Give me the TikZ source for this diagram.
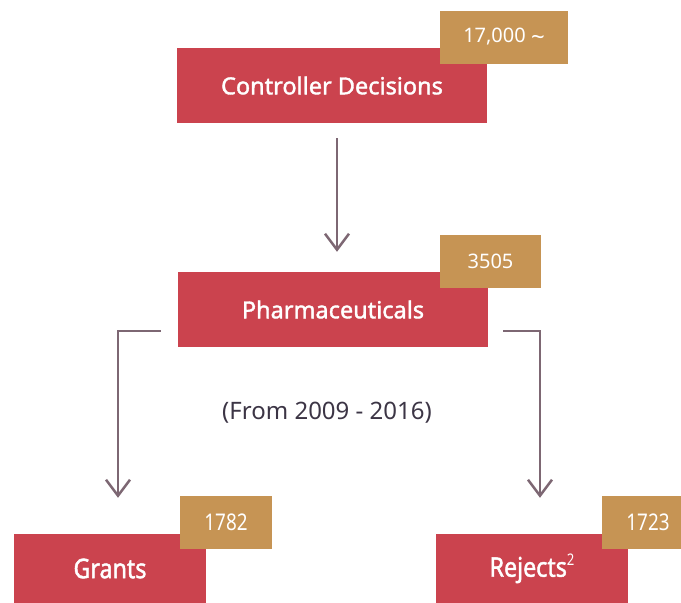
\documentclass[tikz,border=0pt]{standalone}
\usepackage{fontspec}
\setmainfont{Noto Sans}
\newfontfamily\boldish[FakeBold=1.6]{Noto Sans}
\newfontfamily\narrowfont[FakeStretch=0.82]{Noto Sans}
\newfontfamily\narrowbold[FakeStretch=0.86,FakeBold=1.6]{Noto Sans}
\usepackage{xcolor}
\usetikzlibrary{arrows.meta,positioning}
\definecolor{boxred}{RGB}{203,67,78}
\definecolor{badgegold}{RGB}{198,148,84}
\definecolor{linemauve}{RGB}{125,103,115}
\definecolor{notegray}{RGB}{60,53,69}

\begin{document}
\begin{tikzpicture}[x=1pt,y=-1pt,
  box/.style={fill=boxred,text=white,minimum width=310pt,minimum height=75pt,
    inner sep=0pt,font=\boldish\fontsize{23.5}{27}\selectfont},
  smallbox/.style={box,minimum width=192pt,minimum height=69pt,
    font=\narrowbold\fontsize{27}{31}\selectfont},
  badge/.style={fill=badgegold,text=white,inner sep=0pt,minimum height=53pt,
    font=\fontsize{20}{24}\selectfont},
  smallbadge/.style={badge,minimum width=92pt,font=\narrowfont\fontsize{23}{27}\selectfont},
  flow/.style={draw=linemauve,line width=2.5pt,
    -{Straight Barb[length=16pt,width=24pt]}}]
  \clip (0,0) rectangle (681,603);
  % main boxes
  \node[box] (ctrl) at (332,85.5) {Controller Decisions};
  \node[box] (pharma) at (333,309.5) {Pharmaceuticals};
  \node[smallbox] (grants) at (110,568.5) {Grants};
  \node[smallbox] (rejects) at (532,568.5) {Rejects\raisebox{0.42em}{\narrowfont\fontsize{16}{16}\selectfont 2}};
  % counts
  \node[badge,minimum width=128pt] (ctrlnum) at (504,37) {17,000 {\fontsize{24}{24}\selectfont\raisebox{-0.12em}{\textasciitilde}}};
  \node[badge,minimum width=101pt] (pharmanum) at (490.5,261.5) {3505};
  \node[smallbadge] (grantsnum) at (226,522.5) {1782};
  \node[smallbadge] (rejectsnum) at (648,522.5) {1723};
  \node[text=notegray,font=\fontsize{24}{28}\selectfont] (period) at (327,413) {(From 2009 - 2016)};
  % connectors
  \draw[flow,shorten <=15pt,shorten >=20pt] (ctrl.south) ++(5,0) coordinate (a) -- (a |- pharma.north);
  \draw[flow] ([shift={(-17,21.5)}]pharma.west) -| ([shift={(8,-36)}]grants.north);
  \draw[flow] ([shift={(15,21.5)}]pharma.east) -| ([shift={(8,-36)}]rejects.north);
\end{tikzpicture}
\end{document}
